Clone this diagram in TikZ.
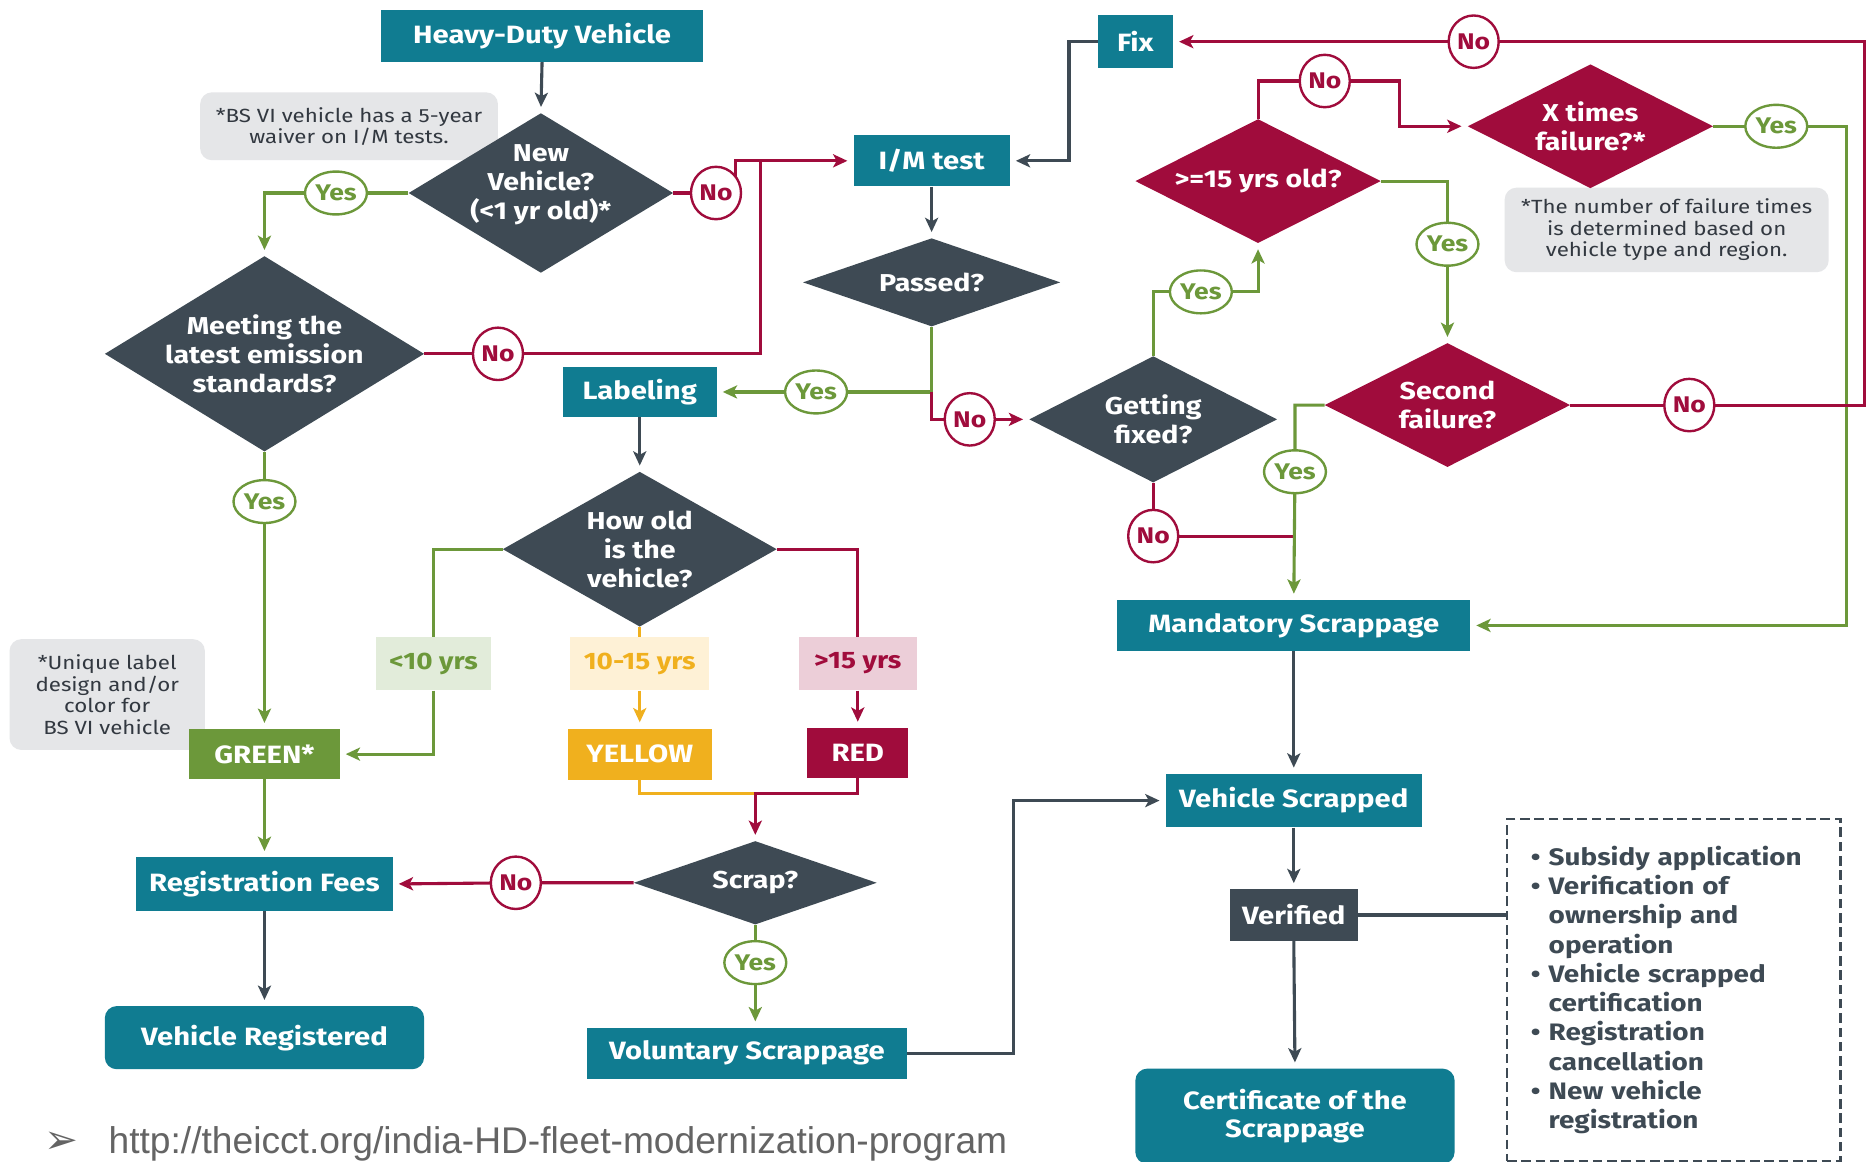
\documentclass[tikz,border=0pt]{standalone}
\usepackage{fontspec}
\setmainfont{Fira Sans}[FakeStretch=1.17]
\newfontfamily\urlfont{Liberation Sans}
\newfontfamily\symfont{DejaVu Sans}
\usetikzlibrary{shapes.geometric,arrows.meta,calc}
\pgfdeclarelayer{bg}
\pgfsetlayers{bg,main}
\definecolor{icteal}{RGB}{16,124,145}
\definecolor{slate}{RGB}{62,74,84}
\definecolor{crim}{RGB}{160,12,60}
\definecolor{grn}{RGB}{108,152,58}
\definecolor{yel}{RGB}{240,176,30}
\definecolor{lgrn}{RGB}{226,236,218}
\definecolor{lyel}{RGB}{254,241,214}
\definecolor{lpink}{RGB}{236,206,216}
\definecolor{notegray}{RGB}{229,230,232}
\definecolor{notetext}{RGB}{50,56,64}
\definecolor{urlgray}{RGB}{100,100,100}
\begin{document}
\begin{tikzpicture}[x=1pt,y=-1pt,
  lbl/.style={font=\fontsize{21}{24}\selectfont\bfseries, text=white, inner sep=0pt, align=center},
  tbox/.style={lbl, fill=icteal},
  dbox/.style={lbl, fill=slate},
  dia/.style={diamond, fill=slate, inner sep=0pt},
  rdia/.style={diamond, fill=crim, inner sep=0pt},
  dtext/.style={font=\fontsize{20.5}{24.5}\selectfont\bfseries, text=white, align=center, inner sep=0pt},
  note/.style={fill=notegray, rounded corners=10pt, text=notetext, font=\fontsize{16}{18}\selectfont, align=center, inner sep=0pt},
  agebox/.style={font=\fontsize{20}{24}\selectfont\bfseries, inner sep=0pt, minimum height=45pt},
  yesb/.style={ellipse, draw=grn, fill=white, line width=2pt, text=grn, minimum width=52pt, minimum height=36pt, inner sep=0pt, font=\fontsize{19}{20}\selectfont\bfseries},
  nob/.style={ellipse, draw=crim, fill=white, line width=2pt, text=crim, minimum width=42pt, minimum height=44pt, inner sep=0pt, font=\fontsize{19}{20}\selectfont\bfseries},
  cl/.style={line width=2.6pt},
  dl/.style={cl, draw=slate},
  gl/.style={cl, draw=grn},
  rl/.style={cl, draw=crim},
  yl/.style={cl, draw=yel},
  arr/.style={-{Stealth[length=12pt,width=11pt,inset=3pt]}, shorten >=5pt}
]
\useasboundingbox (0,0) rectangle (1568,975);
\begin{pgfonlayer}{bg}
\fill[white] (0,0) rectangle (1568,975);
\end{pgfonlayer}

% notes
\node[note, minimum width=250pt, minimum height=57pt] (n1) at (293,106) {*BS VI vehicle has a 5-year\\waiver on I/M tests.};
\node[note, minimum width=164pt, minimum height=93pt] (n2) at (90,583) {*Unique label\\design and/or\\color for\\BS VI vehicle};
\node[note, minimum width=272pt, minimum height=71pt] (n3) at (1399,193) {*The number of failure times\\is determined based on\\vehicle type and region.};

% boxes
\node[tbox, minimum width=270pt, minimum height=44pt] (hdv) at (455,30) {Heavy-Duty Vehicle};
\node[tbox, minimum width=131pt, minimum height=43pt] (im) at (782,135) {I/M test};
\node[tbox, minimum width=63pt, minimum height=44pt] (fix) at (953,35) {Fix};
\node[tbox, minimum width=129pt, minimum height=42pt] (lab) at (537,329) {Labeling};
\node[agebox, fill=lgrn, text=grn, minimum width=97pt] (lt10) at (364,557) {<10 yrs};
\node[agebox, fill=lyel, text=yel, minimum width=117pt] (m1015) at (537,557) {10-15 yrs};
\node[agebox, fill=lpink, text=crim, minimum width=99pt] (gt15) at (720,557) {>15 yrs};
\node[lbl, fill=grn, minimum width=126pt, minimum height=42pt] (green) at (222,633) {GREEN*};
\node[lbl, fill=yel, minimum width=121pt, minimum height=43pt] (yellow) at (537,633) {YELLOW};
\node[lbl, fill=crim, minimum width=85pt, minimum height=42pt] (red) at (720,632) {RED};
\node[tbox, minimum width=215pt, minimum height=45pt] (regf) at (222,742) {Registration Fees};
\node[tbox, rounded corners=10pt, minimum width=268pt, minimum height=53pt] (vreg) at (222,871) {Vehicle Registered};
\node[tbox, minimum width=269pt, minimum height=43pt] (vol) at (627,884) {Voluntary Scrappage};
\node[tbox, minimum width=296pt, minimum height=43pt] (mand) at (1086,525) {Mandatory Scrappage};
\node[tbox, minimum width=215pt, minimum height=45pt] (vscr) at (1086,672) {Vehicle Scrapped};
\node[dbox, minimum width=107pt, minimum height=43pt] (ver) at (1086,768) {Verified};
\node[tbox, rounded corners=10pt, minimum width=268pt, minimum height=80pt] (cert) at (1087,937) {Certificate of the\\Scrappage};
\node[draw=slate, dashed, dash pattern=on 8pt off 4pt, line width=2pt, minimum width=280pt, minimum height=287pt, text width=240pt, align=left, inner sep=0pt, text=slate, font=\fontsize{20}{24.6}\selectfont\bfseries] (list) at (1405,831) {%
\makebox[15pt][l]{•}Subsidy application\\
\makebox[15pt][l]{•}Verification of\\
\hspace*{15pt}ownership and\\
\hspace*{15pt}operation\\
\makebox[15pt][l]{•}Vehicle scrapped\\
\hspace*{15pt}certification\\
\makebox[15pt][l]{•}Registration\\
\hspace*{15pt}cancellation\\
\makebox[15pt][l]{•}New vehicle\\
\hspace*{15pt}registration};

% diamonds
\node[dia, minimum width=222pt, minimum height=134pt, label={[dtext,name=nvt,yshift=7pt]center:{New\\Vehicle?\\(<1 yr old)*}}] (nv) at (454,162) {};
\node[dia, minimum width=268pt, minimum height=164pt, label={[dtext,name=mtt]center:{Meeting the\\latest emission\\standards?}}] (mt) at (222,297) {};
\node[dia, minimum width=216pt, minimum height=74pt, label={[dtext,name=past]center:{Passed?}}] (pas) at (782,237) {};
\node[dia, minimum width=230pt, minimum height=130pt, label={[dtext,name=howt]center:{How old\\is the\\vehicle?}}] (how) at (537,461) {};
\node[dia, minimum width=204pt, minimum height=70pt, label={[dtext,name=scrapt]center:{Scrap?}}] (scrap) at (634,741) {};
\node[dia, minimum width=208pt, minimum height=106pt, label={[dtext,name=getft]center:{Getting\\fixed?}}] (getf) at (968,352) {};
\node[rdia, minimum width=206pt, minimum height=104pt, label={[dtext,name=g15t]center:{>=15 yrs old?}}] (g15) at (1056,152) {};
\node[rdia, minimum width=206pt, minimum height=104pt, label={[dtext,name=xtt]center:{X times\\failure?*}}] (xt) at (1335,106) {};
\node[rdia, minimum width=206pt, minimum height=104pt, label={[dtext,name=sect]center:{Second\\failure?}}] (sec) at (1215,340) {};

% bubbles
\node[yesb] (b1) at (282,162) {Yes};
\node[nob] (b2) at (601,162) {No};
\node[nob] (b3) at (418,297) {No};
\node[yesb] (b4) at (222,421) {Yes};
\node[yesb] (b5) at (685,329) {Yes};
\node[nob] (b6) at (814,352) {No};
\node[nob] (b7) at (433,741) {No};
\node[yesb] (b8) at (634,808) {Yes};
\node[yesb] (b9) at (1008,245) {Yes};
\node[nob] (b10) at (968,450) {No};
\node[nob] (b11) at (1112,68) {No};
\node[yesb] (b12) at (1215,205) {Yes};
\node[yesb] (b13) at (1491,106) {Yes};
\node[nob] (b14) at (1237,35) {No};
\node[nob] (b15) at (1418,340) {No};
\node[yesb] (b16) at (1087,396) {Yes};

% junction coordinates
\coordinate (j1) at (638,135);
\coordinate (j2) at (782,329);
\coordinate (j3) at (634,666);
\coordinate (j4) at (1087,450);
\coordinate (c1) at (617,162);
\coordinate (c2) at (1175,68);
\coordinate (c3) at (1550,106);
\coordinate (c4) at (1565,340);

% url
\node[font=\symfont\fontsize{34}{36}\selectfont, text=urlgray, inner sep=0pt] (bul) at (52,959) {➢};
\node[anchor=west, font=\urlfont\fontsize{31.2}{34}\selectfont, text=urlgray, inner sep=0pt] (url) at (91,960) {http://theicct.org/india-HD-fleet-modernization-program};

\begin{pgfonlayer}{bg}
\draw[dl,arr] (hdv.south) -- (nv.north);
\draw[gl,arr] (nv.west) -- (b1.center) -| (mt.north);
\draw[rl,arr] (nv.east) -- (b2.center) -- (c1) |- (im.west);
\draw[rl] (mt.east) -- (b3.center) -| (j1);
\draw[dl,arr] (fix.west) -- ++(-24,0) |- (im.east);
\draw[dl,arr] (im.south) -- (pas.north);
\draw[gl,arr] (pas.south) |- (b5.center) -- (lab.east);
\draw[rl,arr] (j2) |- (b6.center) -- (getf.west);
\draw[dl,arr] (lab.south) -- (how.north);
\draw[gl] (how.west) -| (lt10.north);
\draw[gl,arr] (lt10.south) |- (green.east);
\draw[yl] (how.south) -- (m1015.north);
\draw[yl,arr] (m1015.south) -- (yellow.north);
\draw[rl] (how.east) -| (gt15.north);
\draw[rl,arr] (gt15.south) -- (red.north);
\draw[yl] (yellow.south) |- (j3);
\draw[rl,arr] (red.south) |- (j3) -- (scrap.north);
\draw[gl,arr] (mt.south) -- (b4.center) -- (green.north);
\draw[gl,arr] (green.south) -- (regf.north);
\draw[rl,arr] (scrap.west) -- (b7.center) -- (regf.east);
\draw[gl,arr] (scrap.south) -- (b8.center) -- (b8 |- vol.north);
\draw[dl,arr] (regf.south) -- (vreg.north);
\draw[dl,arr] (vol.east) -- ++(89,0) |- (vscr.west);
\draw[dl,arr] (mand.south) -- (vscr.north);
\draw[dl,arr] (vscr.south) -- (ver.north);
\draw[dl] (ver.east) -- (ver.east -| list.west);
\draw[dl,arr] (ver.south) -- (cert.north);
\draw[gl,arr] (getf.north) |- (b9.center) -| (g15.south);
\draw[rl] (getf.south) -- (b10.center) -- (j4);
\draw[rl,arr] (g15.north) |- (b11.center) -- (c2) |- (xt.west);
\draw[gl,arr] (g15.east) -| (b12.center) -- (sec.north);
\draw[gl,arr] (xt.east) -- (b13.center) -- (c3) |- (mand.east);
\draw[rl,arr] (sec.east) -- (b15.center) -- (c4) |- (b14.center) -- (fix.east);
\draw[gl,arr] (sec.west) -| (b16.center) -- (mand.north);
\end{pgfonlayer}
\end{tikzpicture}
\end{document}
